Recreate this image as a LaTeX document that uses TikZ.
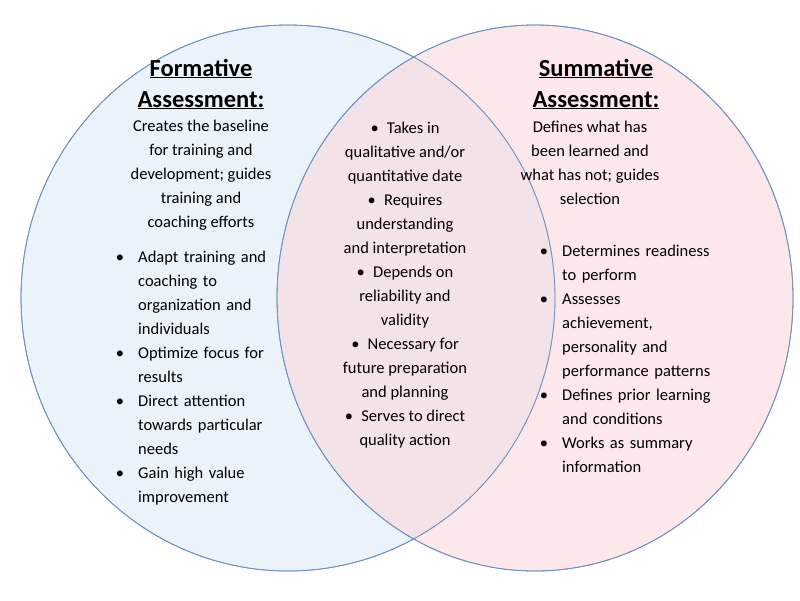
\documentclass[tikz,border=0pt]{standalone}
\usepackage{fontspec}
\setmainfont{Carlito}
\usepackage{enumitem}
\usetikzlibrary{positioning}
\definecolor{ringline}{RGB}{110,145,190}
\definecolor{formfill}{RGB}{222,235,247}
\definecolor{sumfill}{RGB}{250,215,222}
\setlist[itemize]{label=\textbullet, leftmargin=24pt, labelsep=14pt, itemsep=0pt, topsep=0pt, parsep=0pt}

\begin{document}
\begin{tikzpicture}[x=1pt, y=-1pt,
        ring/.style = {draw=ringline, line width=0.8pt, fill opacity=0.6},
        heading/.style = {align=center, font=\fontsize{24.5}{31}\selectfont\bfseries, inner sep=0pt},
        blurb/.style = {align=center, font=\fontsize{16.5}{24}\selectfont, inner sep=0pt},
        points/.style = {align=left, font=\fontsize{16.5}{24}\selectfont, inner sep=0pt, anchor=north west}
    ]
    \useasboundingbox (0,0) rectangle (800,600);

    % the two sets
    \fill[formfill, ring] (288,298) ellipse [x radius=267, y radius=273];
    \fill[sumfill, ring] (535,298) ellipse [x radius=258, y radius=273];
    \draw[ringline, line width=0.8pt] (288,298) ellipse [x radius=267, y radius=273];
    \draw[ringline, line width=0.8pt] (535,298) ellipse [x radius=258, y radius=273];

    % formative side
    \node[heading] (FT) at (201,84) {\underline{Formative}\\\underline{Assessment:}};
    \node[blurb] (FB) at (201,175) {Creates the baseline\\for training and\\development; guides\\training and\\coaching efforts};
    \node[points, text width=180pt] (FP) at (114,238) {\raggedright\begin{itemize}
        \item Adapt training and\\coaching to\\organization and\\individuals
        \item Optimize focus for\\results
        \item Direct attention\\towards particular\\needs
        \item Gain high value\\improvement
    \end{itemize}};

    % overlap
    \node[blurb] (MID) at (405,285) {\textbullet\enspace Takes in\\qualitative and/or\\quantitative date\\
        \textbullet\enspace Requires\\understanding\\and interpretation\\
        \textbullet\enspace Depends on\\reliability and\\validity\\
        \textbullet\enspace Necessary for\\future preparation\\and planning\\
        \textbullet\enspace Serves to direct\\quality action};

    % summative side
    \node[heading] (ST) at (596,84) {\underline{Summative}\\\underline{Assessment:}};
    \node[blurb] (SB) at (590,163) {Defines what has\\been learned and\\what has not; guides\\selection};
    \node[points, text width=220pt] (SP) at (538,232) {\raggedright\begin{itemize}
        \item Determines readiness\\to perform
        \item Assesses\\achievement,\\personality and\\performance patterns
        \item Defines prior learning\\and conditions
        \item Works as summary\\information
    \end{itemize}};
\end{tikzpicture}
\end{document}
